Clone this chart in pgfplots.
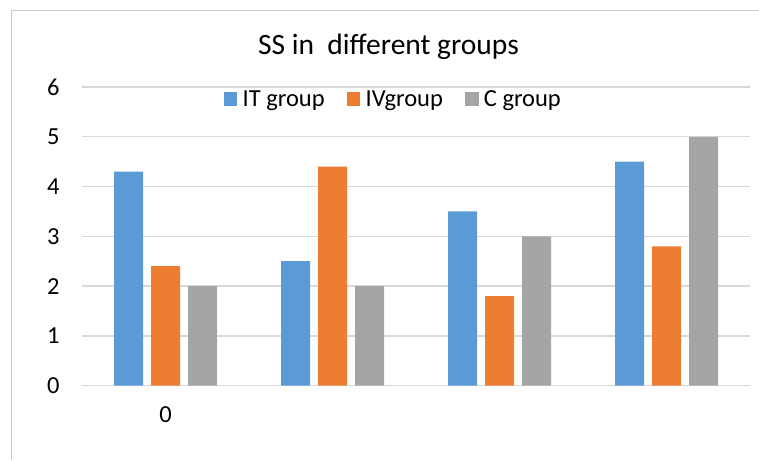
\documentclass[border=0pt]{standalone}
\usepackage{pgfplots}
\pgfplotsset{compat=1.18}
\usepackage{fontspec}
\setmainfont{Carlito}
\definecolor{cblue}{RGB}{91,155,213}
\definecolor{corange}{RGB}{237,125,49}
\definecolor{cgray}{RGB}{165,165,165}
\definecolor{gridc}{RGB}{217,217,217}
\definecolor{framec}{RGB}{200,200,200}
\begin{document}
\begin{tikzpicture}[x=1pt,y=1pt]
\path[use as bounding box] (0,0) rectangle (759,460);
\draw[framec, line width=1pt] (11,0) -- (11,449) -- (759,449);
\node[font=\fontsize{29.5}{34}\selectfont, anchor=center] at (388.5,413) {SS in\ \ different groups};
\begin{axis}[
  at={(82pt,74.3pt)}, anchor=south west,
  scale only axis, width=668pt, height=298.7pt,
  xmin=-0.5, xmax=3.5, ymin=0, ymax=6,
  ytick={0,1,2,3,4,5,6},
  xtick={0}, xticklabels={0},
  ymajorgrids, grid style={gridc, line width=1.3pt},
  axis line style={draw=none},
  major tick length=0pt,
  tick label style={font=\fontsize{24.5}{28}\selectfont},
  /pgf/number format/assume math mode=true,
  yticklabel style={xshift=-19pt},
  xticklabel style={yshift=-17pt},
  ybar, bar width=29pt,
  legend columns=3,
  legend style={draw=none, fill=none, at={(0.466,0.96)}, anchor=center,
    font=\fontsize{24.5}{28}\selectfont,
    /tikz/every even column/.append style={column sep=20pt}},
  legend image code/.code={\fill[#1] (0pt,-6.8pt) rectangle (13.7pt,6.8pt); \path (0pt,0pt) -- (17pt,0pt);},
  clip=false,
]
\addplot[fill=cblue, draw=none, bar shift=-37pt] coordinates {(0,4.3) (1,2.5) (2,3.5) (3,4.5)};
\addplot[fill=corange, draw=none, bar shift=0pt] coordinates {(0,2.4) (1,4.4) (2,1.8) (3,2.8)};
\addplot[fill=cgray, draw=none, bar shift=37pt] coordinates {(0,2) (1,2) (2,3) (3,5)};
\legend{IT group, IVgroup, C group}
\end{axis}
\end{tikzpicture}
\end{document}
